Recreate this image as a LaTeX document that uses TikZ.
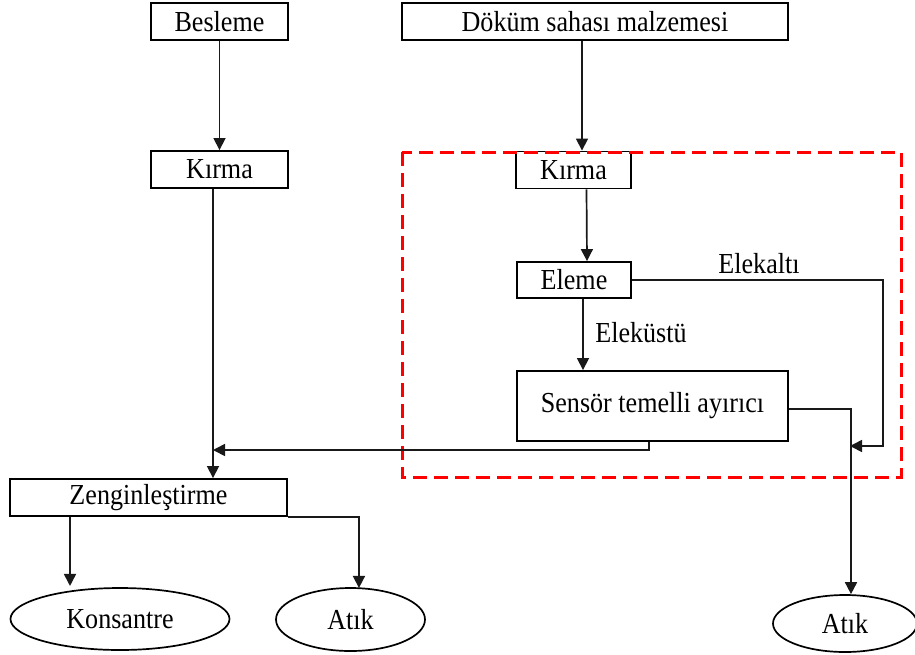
\documentclass[tikz,border=0pt]{standalone}
\usepackage{fontspec}
\setmainfont[FakeStretch=0.9]{Liberation Serif}
\usetikzlibrary{arrows.meta,shapes.geometric}
\begin{document}
\begin{tikzpicture}[x=1pt,y=-1pt,
  every node/.style={font=\fontsize{29}{32}\selectfont, inner sep=0pt},
  box/.style={draw=black, line width=1.9pt, rectangle, minimum height=37pt},
  oval/.style={draw=black, line width=1.7pt, ellipse},
  arr/.style={draw=black!90, line width=1.7pt, -{Triangle[length=12pt,width=12pt]}},
  zone/.style={draw=red, line width=3pt, dash pattern=on 14pt off 7pt}]
\useasboundingbox (0,0) rectangle (915,654);
\fill[white] (0,0) rectangle (915,654);

% process boxes
\node[box, minimum width=137pt] (besleme) at (219.5,21.5) {Besleme};
\node[box, minimum width=386pt] (dokum) at (595,21.5) {Döküm sahası malzemesi};
\node[box, minimum width=137pt] (kirmaL) at (219.5,169.5) {Kırma};
\node[box, minimum width=115pt] (kirmaR) at (573.5,170) {Kırma};
\node[box, minimum width=114pt, minimum height=36pt] (eleme) at (574,280) {Eleme};
\node[box, minimum width=271pt, minimum height=70pt] (sensor) at (652.5,406) {Sensör temelli ayırıcı};
\node[box, minimum width=277pt] (zen) at (148.5,497.5) {Zenginleştirme};

% products
\node[oval, minimum width=219pt, minimum height=62pt] (kons) at (120,619) {Konsantre};
\node[oval, minimum width=149pt, minimum height=63pt] (atik1) at (350.5,619.5) {Atık};
\node[oval, minimum width=144pt, minimum height=57pt] (atik2) at (845,623.5) {Atık};

% sorting stage frame
\draw[zone] (402,152) rectangle (901,477);

% stream labels
\node (altlbl) at (759,264) {Elekaltı};
\node (ustlbl) at (641,333) {Eleküstü};

% junction points
\coordinate (merge) at (213,450);
\coordinate (sidejoin) at (850,446);

% flows
\draw[arr] (besleme) -- (kirmaL);
\draw[arr] ([xshift=-13pt]dokum.south) -- ([xshift=8.5pt]kirmaR.north);
\draw[arr] ([xshift=13pt]kirmaR.south) -- ([xshift=13pt]eleme.north);
\draw[arr] ([xshift=9pt]eleme.south) -- ([xshift=-69.5pt]sensor.north);
\draw[arr] (eleme.east) -- ++(251,0) |- (sidejoin);
\draw[arr] ([yshift=-3pt]sensor.east) -| ([xshift=6pt]atik2.north);
\draw[arr] ([xshift=-3.5pt]sensor.south) |- (merge);
\draw[arr] ([xshift=-6.5pt]kirmaL.south) -- ([xshift=64.5pt]zen.north);
\draw[arr] ([xshift=-78.5pt]zen.south) -- ++(0,69);
\draw[arr] (zen.south east) -| ++(71,71);
\end{tikzpicture}
\end{document}
